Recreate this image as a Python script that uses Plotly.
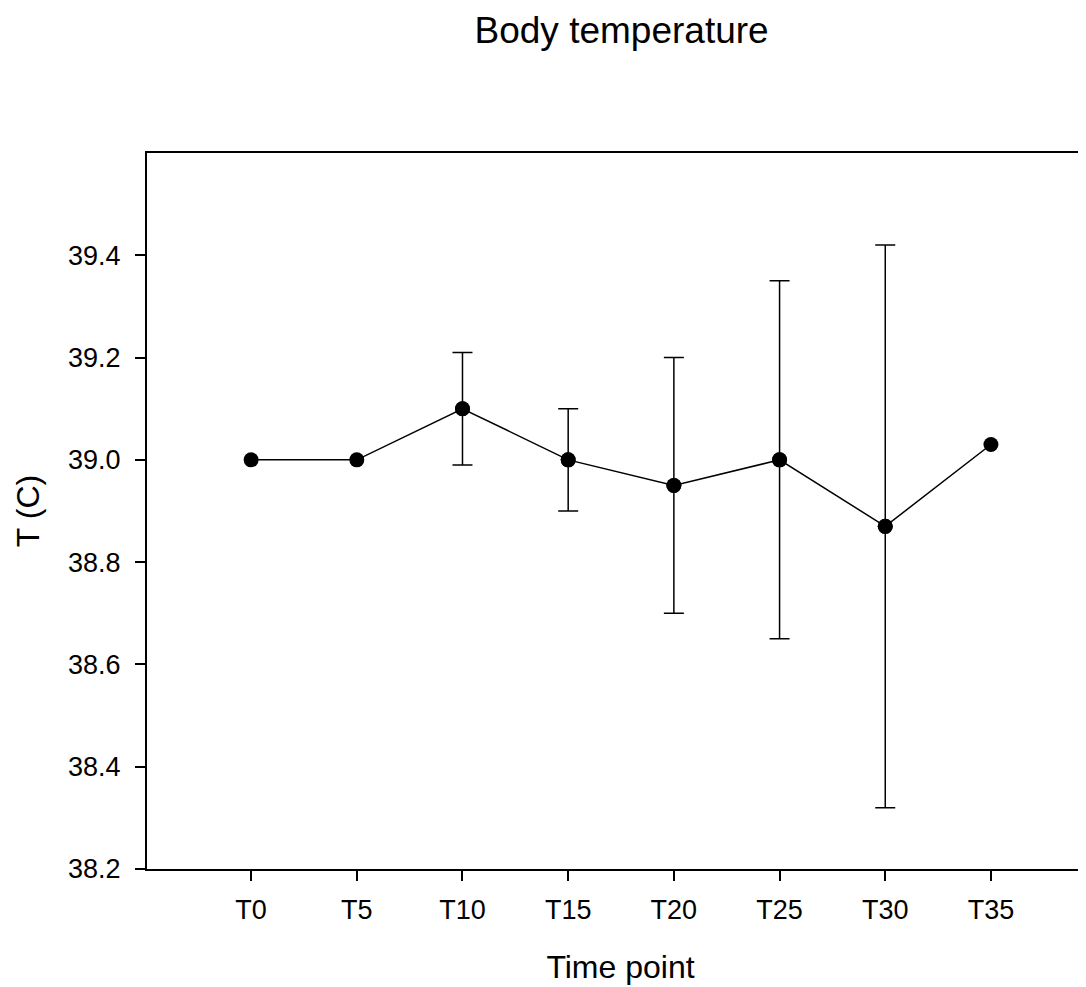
import plotly.graph_objects as go

categories = ["T0", "T5", "T10", "T15", "T20", "T25", "T30", "T35"]
temps = [39.00, 39.00, 39.10, 39.00, 38.95, 39.00, 38.87, 39.03]
errors = [None, None, 0.11, 0.10, 0.25, 0.35, 0.55, None]
y_ticks = [38.2, 38.4, 38.6, 38.8, 39.0, 39.2, 39.4]
y_tick_labels = ["38.2", "38.4", "38.6", "38.8", "39.0", "39.2", "39.4"]

xpos = list(range(len(categories)))
eidx = [i for i, e in enumerate(errors) if e is not None]

tick_font = dict(family="Liberation Sans Narrow, Arial Narrow, Liberation Sans, Arial", size=27, color="#000000")

fig = go.Figure()
fig.add_trace(go.Scatter(
    x=[xpos[i] for i in eidx], y=[temps[i] for i in eidx],
    mode="markers",
    marker=dict(color="#000000", size=15),
    error_y=dict(type="data", array=[errors[i] for i in eidx], visible=True,
                 color="#000000", thickness=1.5, width=10),
    showlegend=False,
))
fig.add_trace(go.Scatter(
    x=xpos, y=temps,
    mode="lines+markers",
    line=dict(color="#000000", width=1.5),
    marker=dict(color="#000000", size=15),
    showlegend=False,
))

fig.update_layout(
    width=1086, height=987,
    margin=dict(l=139, r=0, t=145, b=126),
    paper_bgcolor="white", plot_bgcolor="white",
    title=dict(text="Body temperature", x=0.565, xanchor="center", y=0.978, yanchor="middle",
               font=dict(family="Liberation Sans, Arial", size=37, color="#000000")),
    xaxis=dict(
        range=[-0.985, 7.975],
        tickmode="array", tickvals=xpos, ticktext=categories,
        showline=True, linecolor="#000000", linewidth=2, mirror=True,
        ticks="outside", ticklen=10, tickwidth=2, tickcolor="#000000",
        showgrid=False, zeroline=False,
        tickfont=tick_font, ticklabelstandoff=6,
        title=dict(text="Time point", font=dict(family="Liberation Sans, Arial", size=32, color="#000000"), standoff=31),
    ),
    yaxis=dict(
        range=[38.2, 39.6],
        tickmode="array", tickvals=y_ticks, ticktext=y_tick_labels,
        showline=True, linecolor="#000000", linewidth=2, mirror=False,
        ticks="outside", ticklen=10, tickwidth=2, tickcolor="#000000",
        showgrid=False, zeroline=False,
        tickfont=tick_font, ticklabelstandoff=9,
        title=dict(text="T (C)", font=dict(family="Liberation Sans, Arial", size=32, color="#000000"), standoff=19),
    ),
)

fig.write_html("out.html")
